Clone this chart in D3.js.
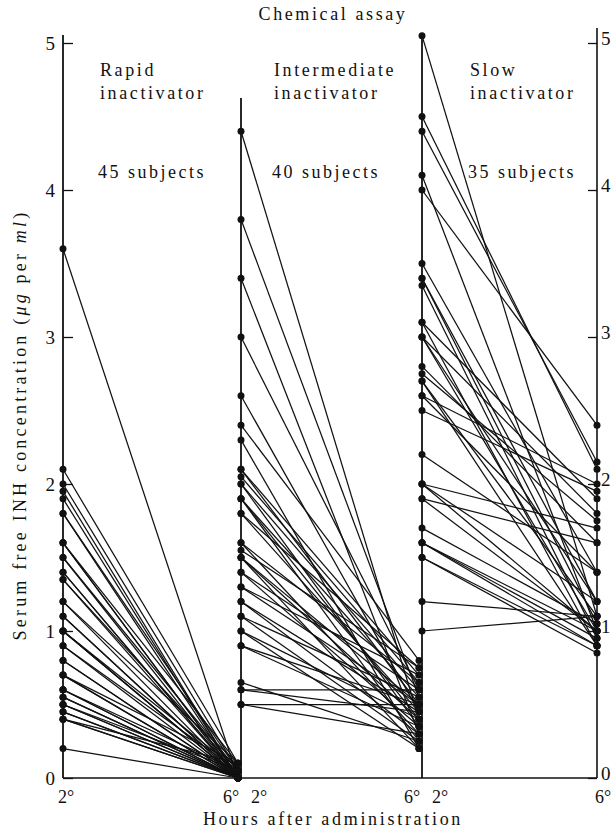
<!DOCTYPE html>
<html>
<head>
<meta charset="utf-8">
<script src="https://cdn.jsdelivr.net/npm/d3@7"></script>
<style>
  body { margin: 0; background: #fff; }
  svg { display: block; }
  text { font-family: "Liberation Serif", "DejaVu Serif", serif; fill: #111; }
</style>
</head>
<body>
<script>
// values (µg per ml), one entry per subject
const rapid2h = [3.6, 2.1, 2.0, 1.95, 1.9, 1.8, 1.8, 1.6, 1.6, 1.6, 1.5, 1.5, 1.4, 1.4, 1.35,
    1.35, 1.2, 1.2, 1.1, 1.1, 1.0, 1.0, 1.0, 0.9, 0.9, 0.8, 0.8, 0.7, 0.7, 0.7,
    0.6, 0.6, 0.55, 0.55, 0.5, 0.5, 0.5, 0.45, 0.45, 0.4, 0.4, 0.4, 0.2, 1.0, 0.6];
const rapid6h = [0, 0.1, 0.05, 0, 0, 0.05, 0, 0, 0.1, 0, 0.05, 0, 0, 0, 0.05,
    0, 0, 0.1, 0, 0, 0.05, 0, 0, 0, 0.05, 0, 0, 0, 0.1, 0,
    0.05, 0, 0, 0, 0, 0.05, 0, 0, 0, 0.1, 0, 0, 0, 0, 0];

const inter2h = [4.4, 3.8, 3.4, 3.0, 2.6, 2.4, 2.3, 2.1, 2.1, 2.0, 2.0, 1.9, 1.9, 1.9, 1.8,
    1.8, 1.6, 1.6, 1.5, 1.5, 1.5, 1.4, 1.4, 1.3, 1.3, 1.2, 1.2, 1.1, 1.1, 1.0,
    1.0, 0.9, 0.9, 0.65, 0.6, 0.6, 0.5, 0.5, 2.05, 1.55];
const inter6h = [0.4, 0.55, 0.3, 0.6, 0.45, 0.8, 0.2, 0.5, 0.7, 0.35, 0.6, 0.4, 0.55, 0.25, 0.75,
    0.45, 0.3, 0.65, 0.5, 0.2, 0.4, 0.6, 0.35, 0.5, 0.7, 0.3, 0.45, 0.25, 0.55, 0.4,
    0.2, 0.5, 0.35, 0.25, 0.6, 0.45, 0.5, 0.3, 0.65, 0.75];

const slow2h = [5.05, 4.5, 4.4, 4.1, 4.0, 3.5, 3.4, 3.4, 3.35, 3.1, 3.0, 3.0, 2.8, 2.7, 2.7,
    2.6, 2.5, 2.2, 2.0, 2.0, 1.9, 1.7, 1.6, 1.6, 1.5, 1.5, 1.2, 1.0, 3.0, 2.6,
    1.9, 1.6, 2.0, 2.75, 3.1];
const slow6h = [1.1, 2.1, 2.15, 1.0, 2.4, 1.4, 1.05, 1.2, 0.95, 1.9, 1.8, 1.0, 1.6, 1.1, 0.9,
    2.0, 1.95, 1.4, 1.7, 1.0, 1.6, 1.05, 0.95, 1.0, 0.9, 0.85, 1.1, 1.1, 1.2, 1.4,
    1.0, 0.9, 1.2, 1.75, 0.9];

const groupNames = [['Rapid', 'inactivator'], ['Intermediate', 'inactivator'], ['Slow', 'inactivator']];
const groupCounts = ['45 subjects', '40 subjects', '35 subjects'];
const hourLabels = ['2°', '6°'];
const yTicks = [0, 1, 2, 3, 4, 5];

const groups = [
    { a: rapid2h, b: rapid6h },
    { a: inter2h, b: inter6h },
    { a: slow2h, b: slow6h }];

const width = 612, height = 830;
const panelX = [[63, 238], [241, 419], [422, 597]];
const labelX = [100, 274, 470];

const y = d3.scaleLinear().domain([0, 5]).range([778, 43]);

const svg = d3.select('body').append('svg').
    attr('width', width).
    attr('height', height);

// baseline and panel divider lines
svg.append('line').
    attr('x1', panelX[0][0]).attr('x2', panelX[2][1]).
    attr('y1', y(0)).attr('y2', y(0)).
    attr('stroke', '#111').attr('stroke-width', 1.6);

svg.append('line').
    attr('x1', panelX[1][0]).attr('x2', panelX[1][0]).
    attr('y1', y(0)).attr('y2', 98).
    attr('stroke', '#111').attr('stroke-width', 1.8);

svg.append('line').
    attr('x1', panelX[2][0]).attr('x2', panelX[2][0]).
    attr('y1', y(0)).attr('y2', y(d3.max(slow2h))).
    attr('stroke', '#111').attr('stroke-width', 1.8);

// left and right value axes
const leftAxis = svg.append('g').
    attr('transform', `translate(${panelX[0][0]},0)`).
    call(d3.axisLeft(y).tickValues(yTicks).tickSize(-10).tickPadding(8).tickFormat(d3.format('d')));

const rightAxis = svg.append('g').
    attr('transform', `translate(${panelX[2][1]},0)`).
    call(d3.axisRight(y).tickValues(yTicks).tickSize(-9).tickPadding(4).tickFormat(d3.format('d')));

[leftAxis, rightAxis].forEach(g => {
    g.select('.domain').remove();
    g.selectAll('.tick line').attr('stroke', '#111').attr('stroke-width', 1.3);
    g.selectAll('.tick text').
        style('font-family', '"Liberation Serif", serif').
        style('font-size', '19px').
        attr('fill', '#111');
});
// right-hand numbers sit a little higher in the original
rightAxis.selectAll('.tick text').attr('dy', '0.1em');

svg.append('line').
    attr('x1', panelX[0][0]).attr('x2', panelX[0][0]).
    attr('y1', y(0)).attr('y2', 35).
    attr('stroke', '#111').attr('stroke-width', 1.8);

svg.append('line').
    attr('x1', panelX[2][1]).attr('x2', panelX[2][1]).
    attr('y1', y(0)).attr('y2', 28).
    attr('stroke', '#111').attr('stroke-width', 1.6);

// subject lines and dots
groups.forEach((grp, gi) => {
    const x = d3.scaleLinear().domain([2, 6]).range(panelX[gi]);
    const pairs = grp.a.map((v, i) => [v, grp.b[i]]);
    const panel = svg.append('g').attr('class', 'panel');

    panel.selectAll('line.subj').
        data(pairs).
        enter().append('line').
        attr('class', 'subj').
        attr('x1', x(2)).attr('y1', d => y(d[0])).
        attr('x2', x(6)).attr('y2', d => y(d[1])).
        attr('stroke', '#111').
        attr('stroke-width', 1.25);

    const dots = pairs.flatMap(d => [[2, d[0]], [6, d[1]]]);
    panel.selectAll('circle').
        data(dots).
        enter().append('circle').
        attr('cx', d => x(d[0])).
        attr('cy', d => y(d[1])).
        attr('r', 3.5).
        attr('fill', '#111');

    // group labels
    const t = svg.append('text').
        attr('x', labelX[gi]).
        attr('y', 76).
        style('font-size', '18px').
        style('letter-spacing', '2.6px');
    t.append('tspan').attr('x', labelX[gi]).attr('dy', 0).text(groupNames[gi][0]);
    t.append('tspan').attr('x', labelX[gi]).attr('dy', 23).text(groupNames[gi][1]);

    svg.append('text').
        attr('x', labelX[gi] - 2).
        attr('y', 178).
        style('font-size', '18px').
        style('letter-spacing', '2.5px').
        text(groupCounts[gi]);

    // hour labels
    svg.append('text').
        attr('x', gi === 0 ? x(2) + 3 : x(2) + 18).
        attr('y', 803).
        attr('text-anchor', 'middle').
        style('font-size', '18px').
        text(hourLabels[0]);
    svg.append('text').
        attr('x', gi === 2 ? x(6) + 6 : x(6) - 7).
        attr('y', 803).
        attr('text-anchor', 'middle').
        style('font-size', '18px').
        text(hourLabels[1]);
});

// titles
svg.append('text').
    attr('x', 333).attr('y', 20).
    attr('text-anchor', 'middle').
    style('font-size', '18px').
    style('letter-spacing', '2.6px').
    text('Chemical assay');

svg.append('text').
    attr('x', 333).attr('y', 825).
    attr('text-anchor', 'middle').
    style('font-size', '18px').
    style('letter-spacing', '2.7px').
    text('Hours after administration');

const yl = svg.append('text').
    attr('transform', 'translate(26,425) rotate(-90)').
    attr('text-anchor', 'middle').
    style('font-size', '18px').
    style('letter-spacing', '3.2px');
yl.append('tspan').text('Serum free INH concentration (');
yl.append('tspan').style('font-style', 'italic').text('μg');
yl.append('tspan').text(' per ');
yl.append('tspan').style('font-style', 'italic').text('ml');
yl.append('tspan').text(')');
</script>
</body>
</html>
